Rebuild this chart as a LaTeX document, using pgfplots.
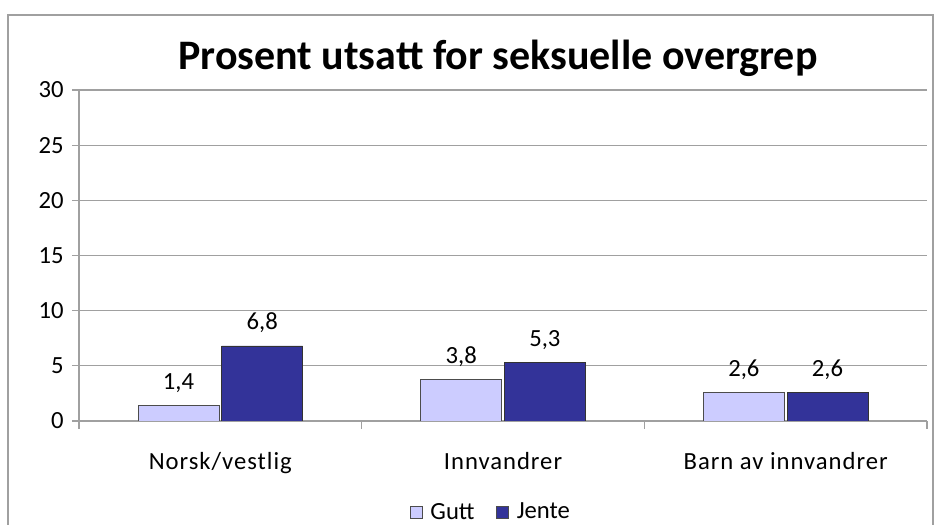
\documentclass[border=0pt]{standalone}
\usepackage{pgfplots}
\pgfplotsset{compat=1.18}
\usepackage{fontspec}
\setmainfont{Carlito}
\newfontfamily\spaced[LetterSpace=4]{Carlito}
\definecolor{gutt}{HTML}{CCCCFF}
\definecolor{jente}{HTML}{333399}
\definecolor{gridgray}{HTML}{A0A0A0}
\begin{document}
\begin{tikzpicture}
\useasboundingbox (0,0) rectangle (702pt,393.75pt);
\draw[color=gridgray, line width=0.8pt] (6pt,-3pt) -- (6pt,382.5pt) -- (699.75pt,382.5pt) -- (699.75pt,-3pt);
\node[font=\bfseries\fontsize{31.5}{34}\selectfont] at (373.5pt,350.25pt) {Prosent utsatt for seksuelle overgrep};
\begin{axis}[
  at={(59.25pt,78pt)}, anchor=south west,
  scale only axis, width=636pt, height=248.25pt,
  ybar, bar width=60.75pt, bar shift auto,
  xmin=-0.5, xmax=2.5, ymin=0, ymax=30,
  ytick={0,5,...,30},
  xtick={0,1,2},
  xticklabels={Norsk/vestlig,Innvandrer,Barn av innvandrer},
  minor xtick={-0.5,0.5,1.5,2.5},
  major x tick style={draw=none},
  minor tick length=6pt,
  major tick length=5pt,
  tick align=outside,
  xtick pos=bottom, ytick pos=left,
  axis x line*=bottom, axis y line*=left,
  axis line style={gridgray, line width=0.8pt},
  tick style={gridgray, line width=0.8pt},
  ymajorgrids, grid style={gridgray, line width=0.8pt},
  /pgf/number format/assume math mode=true,
  yticklabel style={font=\fontsize{18.5}{21}\selectfont, xshift=-3pt},
  xticklabel style={font=\spaced\fontsize{18.5}{21}\selectfont, yshift=-15pt},
  nodes near coords,
  nodes near coords style={font=\fontsize{18.5}{21}\selectfont, anchor=base, yshift=12pt, text=black,
    /pgf/number format/.cd, fixed, precision=1, fixed zerofill, use comma},
  legend style={at={(0.486,-0.275)}, anchor=center, draw=none, legend columns=2,
    font=\fontsize{18.5}{21}\selectfont,
    /tikz/every odd column/.append style={column sep=4pt},
    /tikz/every even column/.append style={column sep=14pt}},
  legend image code/.code={\draw[#1, draw=black!70] (0pt,-4.5pt) rectangle (9pt,4.5pt);},
]
\addplot[fill=gutt, draw=black!70, line width=0.6pt] coordinates {(0,1.4) (1,3.8) (2,2.6)};
\addplot[fill=jente, draw=black!80, line width=0.6pt] coordinates {(0,6.8) (1,5.3) (2,2.6)};
\legend{Gutt,Jente}
\end{axis}
\end{tikzpicture}
\end{document}
